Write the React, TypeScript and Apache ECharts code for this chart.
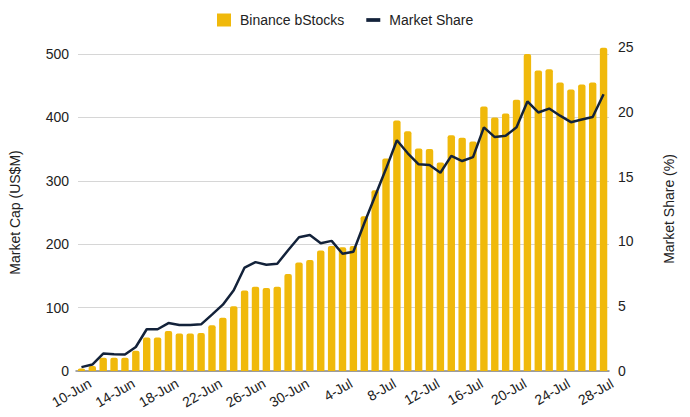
import React, { useEffect, useRef } from "react";
import * as echarts from "echarts";

const categories = [
  "10-Jun","11-Jun","12-Jun","13-Jun","14-Jun","15-Jun","16-Jun","17-Jun","18-Jun","19-Jun",
  "20-Jun","21-Jun","22-Jun","23-Jun","24-Jun","25-Jun","26-Jun","27-Jun","28-Jun","29-Jun",
  "30-Jun","1-Jul","2-Jul","3-Jul","4-Jul","5-Jul","6-Jul","7-Jul","8-Jul","9-Jul",
  "10-Jul","11-Jul","12-Jul","13-Jul","14-Jul","15-Jul","16-Jul","17-Jul","18-Jul","19-Jul",
  "20-Jul","21-Jul","22-Jul","23-Jul","24-Jul","25-Jul","26-Jul","27-Jul","28-Jul",
];

const marketCap = [
  4, 8, 21, 21, 21, 32, 53, 53, 63, 59,
  59, 60, 72, 84, 102, 127, 133, 131, 133, 153,
  171, 175, 190, 197, 195, 197, 244, 285, 335, 395,
  378, 351, 350, 329, 372, 368, 362, 417, 400, 406,
  428, 500, 474, 476, 455, 444, 452, 455, 510,
];

const marketShare = [
  0.3, 0.5, 1.35, 1.3, 1.27, 1.85, 3.22, 3.22, 3.7, 3.55,
  3.55, 3.6, 4.35, 5.12, 6.23, 7.98, 8.4, 8.2, 8.27, 9.32,
  10.32, 10.5, 9.86, 10.04, 9.05, 9.2, 11.4, 13.5, 15.6, 17.8,
  16.8, 15.95, 15.9, 15.3, 16.6, 16.2, 16.5, 18.8, 18.05, 18.15,
  18.8, 20.8, 19.95, 20.25, 19.7, 19.2, 19.4, 19.6, 21.35,
];

const leftTicks = { min: 0, max: 500, interval: 100 };
const rightTicks = { min: 0, max: 25, interval: 5 };

const FONT = "'Liberation Sans', Arial, sans-serif";
const TEXT = "#222";

export default function App() {
  const ref = useRef<HTMLDivElement>(null);
  useEffect(() => {
    if (!ref.current) return;
    document.body.style.margin = "0";
    const chart = echarts.init(ref.current, undefined, { renderer: "svg" });
    const common = { left: 76, right: 81, bottom: 46 };
    chart.setOption({
      animation: false,
      textStyle: { fontFamily: FONT, color: TEXT },
      legend: {
        top: 8,
        left: 212,
        itemWidth: 14,
        itemHeight: 13,
        itemGap: 22,
        textStyle: { fontSize: 14, color: TEXT, fontFamily: FONT, padding: [0, 0, 0, 4] },
        data: [
          { name: "Binance bStocks", icon: "rect" },
          { name: "Market Share", icon: "path://M0,0H15V4H0Z", itemStyle: { color: "#13223A" } },
        ],
      },
      grid: [
        { ...common, top: 54 },
        { ...common, top: 47 },
      ],
      xAxis: [
        { type: "category", gridIndex: 0, data: categories, show: false },
        {
          type: "category",
          gridIndex: 1,
          data: categories,
          axisLine: { show: true, lineStyle: { color: "#888", width: 1.5 } },
          axisTick: { show: false },
          axisLabel: {
            interval: 3,
            rotate: 30,
            margin: 16,
            padding: [0, -10, 0, 0],
            fontSize: 14,
            color: TEXT,
            fontFamily: FONT,
          },
        },
      ],
      yAxis: [
        {
          type: "value",
          gridIndex: 0,
          position: "left",
          ...leftTicks,
          name: "Market Cap (US$M)",
          nameLocation: "middle",
          nameGap: 48,
          nameTextStyle: { fontSize: 14, color: TEXT, fontFamily: FONT, padding: [0, 0, 8, 0] },
          axisLine: { show: false },
          axisTick: { show: false },
          axisLabel: { margin: 9, fontSize: 14, color: TEXT, fontFamily: FONT },
          splitLine: { show: true, lineStyle: { color: "#d6d6d6", width: 1 } },
        },
        {
          type: "value",
          gridIndex: 1,
          min: 0,
          max: 511,
          show: false,
          splitLine: { show: false },
        },
        {
          type: "value",
          gridIndex: 1,
          position: "right",
          ...rightTicks,
          name: "Market Share (%)",
          nameLocation: "middle",
          nameGap: 53,
          nameTextStyle: { fontSize: 14, color: TEXT, fontFamily: FONT },
          axisLine: { show: false },
          axisTick: { show: false },
          axisLabel: { margin: 9, fontSize: 14, color: TEXT, fontFamily: FONT },
          splitLine: { show: false },
        },
      ],
      series: [
        {
          name: "Binance bStocks",
          type: "bar",
          xAxisIndex: 1,
          yAxisIndex: 1,
          data: marketCap,
          barCategoryGap: "32%",
          itemStyle: { color: "#F0B90B", borderRadius: [2, 2, 0, 0] },
          z: 2,
        },
        {
          name: "Market Share",
          type: "line",
          xAxisIndex: 1,
          yAxisIndex: 2,
          data: marketShare,
          symbol: "none",
          lineStyle: { color: "#13223A", width: 2.5 },
          itemStyle: { color: "#13223A" },
          z: 3,
        },
      ],
    });
    return () => chart.dispose();
  }, []);
  return <div ref={ref} style={{ width: 690, height: 417 }} />;
}
